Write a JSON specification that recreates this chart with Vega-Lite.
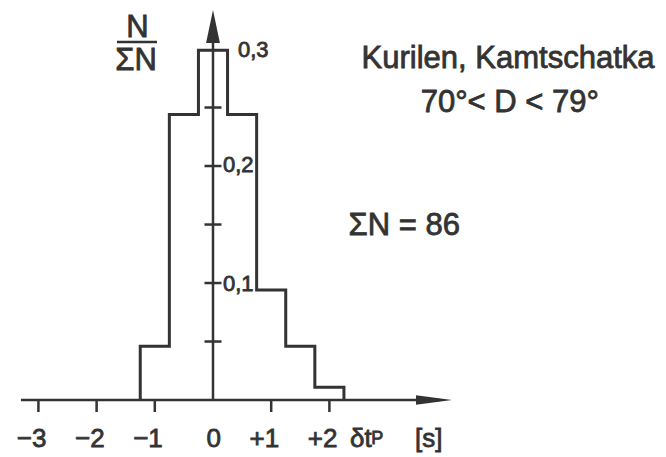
{
  "$schema": "https://vega.github.io/schema/vega-lite/v6.json",
  "width": 666,
  "height": 457,
  "autosize": {"type": "fit", "contains": "padding"},
  "padding": 0,
  "background": "white",
  "config": {"view": {"stroke": null}, "text": {"font": "Liberation Sans", "color": "#333333", "stroke": "#333333", "strokeWidth": 0.8}},
  "datasets": {
    "outline": [
      {"x": -1.25, "y": 0},
      {"x": -1.25, "y": 0.046},
      {"x": -0.75, "y": 0.244},
      {"x": -0.25, "y": 0.299},
      {"x": 0.25, "y": 0.244},
      {"x": 0.75, "y": 0.094},
      {"x": 1.25, "y": 0.046},
      {"x": 1.75, "y": 0.011},
      {"x": 2.25, "y": 0}
    ],
    "xticks": [
      {"x": -3, "y": 0, "label": "−3", "tick": true},
      {"x": -2, "y": 0, "label": "−2", "tick": true},
      {"x": -1, "y": 0, "label": "−1", "tick": true},
      {"x": 0, "y": 0, "label": "0", "tick": false},
      {"x": 1, "y": 0, "label": "+1", "tick": true},
      {"x": 2, "y": 0, "label": "+2", "tick": true}
    ],
    "yticks": [
      {"x": 0, "y": 0.05},
      {"x": 0, "y": 0.1},
      {"x": 0, "y": 0.15},
      {"x": 0, "y": 0.2},
      {"x": 0, "y": 0.25}
    ],
    "ylabels": [
      {"x": 0.17, "y": 0.093, "label": "0,1"},
      {"x": 0.17, "y": 0.195, "label": "0,2"},
      {"x": 0.43, "y": 0.293, "label": "0,3"}
    ],
    "notes": [
      {"x": -1.297, "y": 0.31, "label": "N"},
      {"x": -1.323, "y": 0.282, "label": "ΣN"},
      {"x": 5.07, "y": 0.284, "label": "Kurilen, Kamtschatka"},
      {"x": 5.1, "y": 0.246, "label": "70°< D < 79°"},
      {"x": 3.286, "y": 0.141, "label": "ΣN = 86"}
    ],
    "unit": [
      {"x": 2.354, "y": -0.0402, "label": "δt"},
      {"x": 3.47, "y": -0.0402, "label": "[s]"}
    ],
    "sub": [
      {"x": 2.72, "y": -0.038, "label": "P"}
    ]
  },
  "layer": [
    {
      "data": {"name": "outline"},
      "mark": {"type": "line", "interpolate": "step-after", "strokeWidth": 3, "color": "#333333", "strokeJoin": "miter"},
      "encoding": {
        "x": {"field": "x", "type": "quantitative", "scale": {"domain": [-3.66, 7.784], "nice": false, "zero": false}, "axis": null},
        "y": {"field": "y", "type": "quantitative", "scale": {"domain": [-0.0487, 0.3419], "nice": false, "zero": false}, "axis": null}
      }
    },
    {
      "data": {"values": [{}]},
      "mark": {"type": "rule", "strokeWidth": 2.5, "color": "#333333"},
      "encoding": {"x": {"datum": -3.3, "type": "quantitative"}, "x2": {"datum": 3.9}, "y": {"datum": 0, "type": "quantitative"}}
    },
    {
      "data": {"values": [{}]},
      "mark": {"type": "rule", "strokeWidth": 2.5, "color": "#333333"},
      "encoding": {"x": {"datum": 0, "type": "quantitative"}, "y": {"datum": 0, "type": "quantitative"}, "y2": {"datum": 0.31}}
    },
    {
      "data": {"values": [{}]},
      "mark": {"type": "point", "shape": "M -2 -0.26 L 0 0 L -2 0.26 Z", "size": 1296, "filled": true, "opacity": 1, "color": "#333333"},
      "encoding": {"x": {"datum": 4.107, "type": "quantitative"}, "y": {"datum": 0, "type": "quantitative"}}
    },
    {
      "data": {"values": [{}]},
      "mark": {"type": "point", "shape": "M -0.42 2 L 0 0 L 0.42 2 Z", "size": 1089, "filled": true, "opacity": 1, "color": "#333333"},
      "encoding": {"x": {"datum": 0, "type": "quantitative"}, "y": {"datum": 0.3333, "type": "quantitative"}}
    },
    {
      "data": {"values": [{}]},
      "mark": {"type": "rule", "strokeWidth": 2.5, "color": "#333333"},
      "encoding": {"x": {"datum": -1.65, "type": "quantitative"}, "x2": {"datum": -0.962}, "y": {"datum": 0.306, "type": "quantitative"}}
    },
    {
      "data": {"name": "xticks"},
      "transform": [{"filter": "datum.tick"}],
      "mark": {"type": "tick", "orient": "vertical", "size": 12, "thickness": 2.5, "yOffset": 6, "color": "#333333", "opacity": 1},
      "encoding": {
        "x": {"field": "x", "type": "quantitative"},
        "y": {"field": "y", "type": "quantitative"}
      }
    },
    {
      "data": {"name": "yticks"},
      "mark": {"type": "tick", "orient": "horizontal", "size": 17, "thickness": 2.5, "color": "#333333", "opacity": 1},
      "encoding": {
        "x": {"field": "x", "type": "quantitative"},
        "y": {"field": "y", "type": "quantitative"}
      }
    },
    {
      "data": {"name": "xticks"},
      "mark": {"type": "text", "align": "right", "baseline": "alphabetic", "dx": 8, "fontSize": 26},
      "encoding": {
        "x": {"field": "x", "type": "quantitative"},
        "y": {"datum": -0.0402, "type": "quantitative"},
        "text": {"field": "label"}
      }
    },
    {
      "data": {"name": "ylabels"},
      "mark": {"type": "text", "align": "left", "baseline": "alphabetic", "fontSize": 22},
      "encoding": {
        "x": {"field": "x", "type": "quantitative"},
        "y": {"field": "y", "type": "quantitative"},
        "text": {"field": "label"}
      }
    },
    {
      "data": {"name": "notes"},
      "mark": {"type": "text", "align": "center", "baseline": "alphabetic", "fontSize": 31},
      "encoding": {
        "x": {"field": "x", "type": "quantitative"},
        "y": {"field": "y", "type": "quantitative"},
        "text": {"field": "label"}
      }
    },
    {
      "data": {"name": "unit"},
      "mark": {"type": "text", "align": "left", "baseline": "alphabetic", "fontSize": 26},
      "encoding": {
        "x": {"field": "x", "type": "quantitative"},
        "y": {"field": "y", "type": "quantitative"},
        "text": {"field": "label"}
      }
    },
    {
      "data": {"name": "sub"},
      "mark": {"type": "text", "align": "left", "baseline": "alphabetic", "fontSize": 18},
      "encoding": {
        "x": {"field": "x", "type": "quantitative"},
        "y": {"field": "y", "type": "quantitative"},
        "text": {"field": "label"}
      }
    }
  ]
}
